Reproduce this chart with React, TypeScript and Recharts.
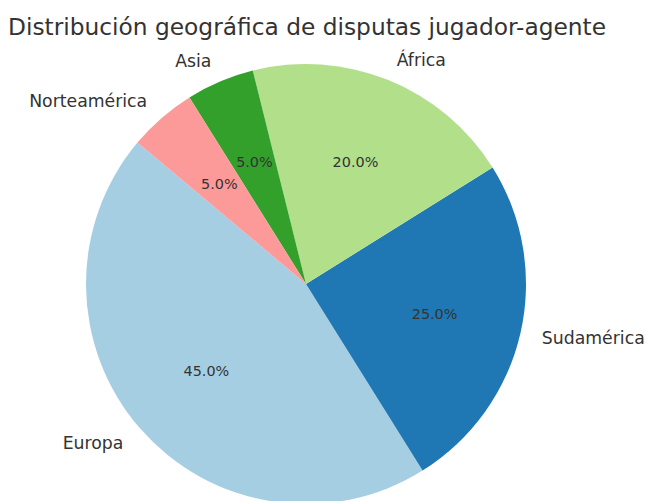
import React from "react";
import { PieChart, Pie, Cell } from "recharts";

const categories = ["Europa", "Sudamérica", "África", "Asia", "Norteamérica"];
const shares = [45, 25, 20, 5, 5];
const colors = ["#a6cee3", "#1f78b4", "#b2df8a", "#33a02c", "#fb9a99"];
const title = "Distribución geográfica de disputas jugador-agente";

const data = categories.map((name, i) => ({ name, value: shares[i] }));

const RADIAN = Math.PI / 180;
const FONT = "'DejaVu Sans', sans-serif";
const TEXT = "#333333";

const renderLabel = (props: any) => {
  const { cx, cy, midAngle, outerRadius, percent, name } = props;
  const cos = Math.cos(-midAngle * RADIAN);
  const sin = Math.sin(-midAngle * RADIAN);
  const lx = cx + outerRadius * 1.1 * cos;
  const ly = cy + outerRadius * 1.1 * sin;
  const px = cx + outerRadius * 0.6 * cos;
  const py = cy + outerRadius * 0.6 * sin;
  return (
    <g>
      <text
        x={lx}
        y={ly}
        textAnchor={cos < 0 ? "end" : "start"}
        dominantBaseline="central"
        fontFamily={FONT}
        fontSize={17.3}
        fill={TEXT}
      >
        {name}
      </text>
      <text
        x={px}
        y={py}
        textAnchor="middle"
        dominantBaseline="central"
        fontFamily={FONT}
        fontSize={14.4}
        fill={TEXT}
      >
        {(percent * 100).toFixed(1)}%
      </text>
    </g>
  );
};

export default function App() {
  return (
    <div style={{ position: "fixed", left: 0, top: 0, width: 646, height: 501, background: "#ffffff" }}>
      <svg width={646} height={501} style={{ position: "absolute", left: 0, top: 0 }}>
        <text x={8} y={35} fontFamily={FONT} fontSize={23.3} fill={TEXT}>
          {title}
        </text>
      </svg>
      <div style={{ position: "absolute", left: 0, top: 0 }}>
        <PieChart width={646} height={501} margin={{ top: 0, right: 0, bottom: 0, left: 0 }}>
          <Pie
            data={data}
            dataKey="value"
            nameKey="name"
            cx={306}
            cy={284}
            outerRadius={220}
            innerRadius={0}
            startAngle={140}
            endAngle={500}
            stroke="none"
            labelLine={false}
            label={renderLabel}
            isAnimationActive={false}
          >
            {data.map((d, i) => (
              <Cell key={d.name} fill={colors[i]} />
            ))}
          </Pie>
        </PieChart>
      </div>
    </div>
  );
}
